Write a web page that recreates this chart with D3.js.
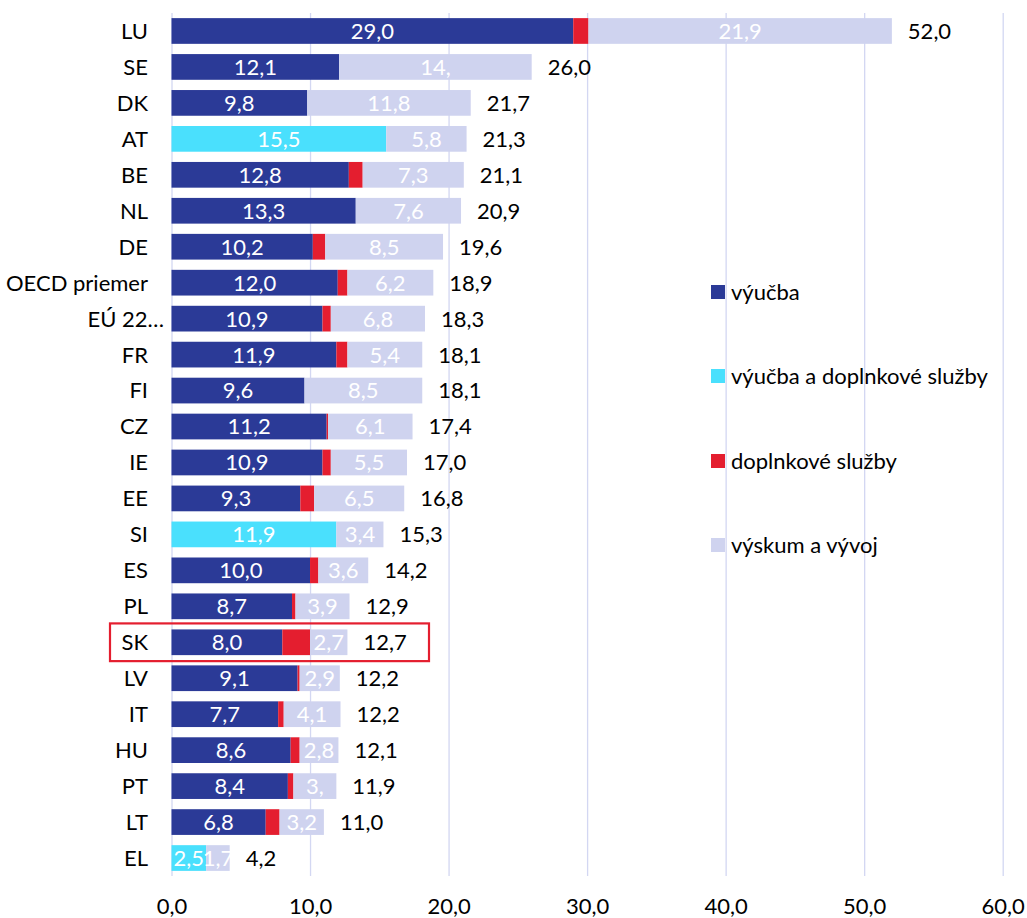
<!DOCTYPE html>
<html>
<head>
<meta charset="utf-8">
<script src="https://cdn.jsdelivr.net/npm/d3@7"></script>
<style>
  html, body { margin: 0; padding: 0; background: #fff; }
  svg { display: block; font-family: Lato, "Open Sans", sans-serif; }
</style>
</head>
<body>
<svg id="chart" width="1027" height="918"></svg>
<script>
const categories = ["LU","SE","DK","AT","BE","NL","DE","OECD priemer","EÚ 22…","FR","FI","CZ","IE","EE","SI","ES","PL","SK","LV","IT","HU","PT","LT","EL"];
const vyucba     = [29.0,12.1,9.8,0,12.8,13.3,10.2,12.0,10.9,11.9,9.6,11.2,10.9,9.3,0,10.0,8.7,8.0,9.1,7.7,8.6,8.4,6.8,0];
const vyucbaDopl = [0,0,0,15.5,0,0,0,0,0,0,0,0,0,0,11.9,0,0,0,0,0,0,0,0,2.5];
const doplnkove  = [1.1,0,0,0,1.0,0,0.9,0.7,0.6,0.8,0,0.1,0.6,1.0,0,0.6,0.25,2.0,0.15,0.4,0.65,0.4,1.0,0];
const vyskum     = [21.9,13.9,11.8,5.8,7.3,7.6,8.5,6.2,6.8,5.4,8.5,6.1,5.5,6.5,3.4,3.6,3.9,2.7,2.9,4.1,2.8,3.1,3.2,1.7];
const totals     = [52.0,26.0,21.7,21.3,21.1,20.9,19.6,18.9,18.3,18.1,18.1,17.4,17.0,16.8,15.3,14.2,12.9,12.7,12.2,12.2,12.1,11.9,11.0,4.2];
// labels that appear cut off in the original
const labelOverrides = { "SE|vyskum": "14,", "PT|vyskum": "3," };
const highlighted = "SK";
const xTicks = [0,10,20,30,40,50,60];

const seriesNames = ["výučba","výučba a doplnkové služby","doplnkové služby","výskum a vývoj"];
const seriesKeys  = ["vyucba","vyucbaDopl","doplnkove","vyskum"];
const seriesColors = ["#2b3a97","#4ae0fd","#e41e2f","#cfd3ef"];
const seriesLabeled = [true,true,false,true];

const FS = 22;

const rows = categories.map((c,i) => ({
  cat: c, vyucba: vyucba[i], vyucbaDopl: vyucbaDopl[i], doplnkove: doplnkove[i], vyskum: vyskum[i], total: totals[i]
}));

const svg = d3.select("#chart");
const x = d3.scaleLinear().domain([0,60]).range([171.5,1002.7]);
const y = d3.scaleBand().domain(categories).range([13,876]).paddingInner(0.285).paddingOuter(0.1425);
const fmt = v => d3.format(".1f")(v).replace(".", ",");

// gridlines
const grid = svg.append("g").attr("transform","translate(0,13)")
  .call(d3.axisBottom(x).tickValues(xTicks).tickSize(863).tickFormat(""));
grid.select(".domain").remove();
grid.selectAll(".tick line").attr("stroke","#d3d7f2").attr("stroke-width",1.3);

// stacked bars
const stack = d3.stack().keys(seriesKeys);
const stacked = stack(rows);

const layers = svg.append("g").selectAll("g").data(stacked).join("g")
  .attr("fill",(d,i)=>seriesColors[i]);
layers.selectAll("rect").data(d=>d).join("rect")
  .attr("x",d=>x(d[0]))
  .attr("width",d=>Math.max(0,x(d[1])-x(d[0])))
  .attr("y",d=>y(d.data.cat))
  .attr("height",y.bandwidth());

// segment labels
const labG = svg.append("g").attr("font-size",FS).attr("fill","#fff").attr("text-anchor","middle");
stacked.forEach((layer,si)=>{
  if(!seriesLabeled[si]) return;
  layer.forEach(d=>{
    const v = d[1]-d[0];
    if(v<=0) return;
    const key = d.data.cat+"|"+seriesKeys[si];
    const txt = labelOverrides[key] !== undefined ? labelOverrides[key] : fmt(d.data[seriesKeys[si]]);
    labG.append("text")
      .attr("x",(x(d[0])+x(d[1]))/2)
      .attr("y",y(d.data.cat)+y.bandwidth()/2)
      .attr("dy","0.36em")
      .text(txt);
  });
});

// total labels
svg.append("g").attr("font-size",FS).attr("fill","#000")
  .selectAll("text").data(rows).join("text")
  .attr("x",d=>x(d.vyucba+d.vyucbaDopl+d.doplnkove+d.vyskum)+16)
  .attr("y",d=>y(d.cat)+y.bandwidth()/2)
  .attr("dy","0.36em")
  .text(d=>fmt(d.total));

// category axis labels
svg.append("g").attr("font-size",FS).attr("fill","#000")
  .selectAll("text").data(categories).join("text")
  .attr("x",d=> d.endsWith("…") ? 164 : 148)
  .attr("text-anchor","end")
  .attr("y",d=>y(d)+y.bandwidth()/2)
  .attr("dy","0.36em")
  .text(d=>d);

// x axis labels
const xa = svg.append("g").attr("transform","translate(0,906)")
  .call(d3.axisBottom(x).tickValues(xTicks).tickSize(0).tickPadding(0).tickFormat(fmt));
xa.select(".domain").remove();
xa.selectAll("text").attr("font-size",FS).attr("fill","#000").attr("font-family","Lato, 'Open Sans', sans-serif").attr("dy","0.36em");

// highlight box
svg.append("rect")
  .attr("x",110).attr("width",319)
  .attr("y",y(highlighted)-6).attr("height",y.bandwidth()+12)
  .attr("fill","none").attr("stroke","#e41e2f").attr("stroke-width",2.2);

// legend
const legY = [292,376,461,545];
const leg = svg.append("g").attr("font-size",FS);
seriesNames.forEach((n,i)=>{
  leg.append("rect").attr("x",711).attr("y",legY[i]-7).attr("width",14).attr("height",14).attr("fill",seriesColors[i]);
  leg.append("text").attr("x",731).attr("y",legY[i]).attr("dy","0.36em").attr("fill","#000").text(n);
});
</script>
</body>
</html>
